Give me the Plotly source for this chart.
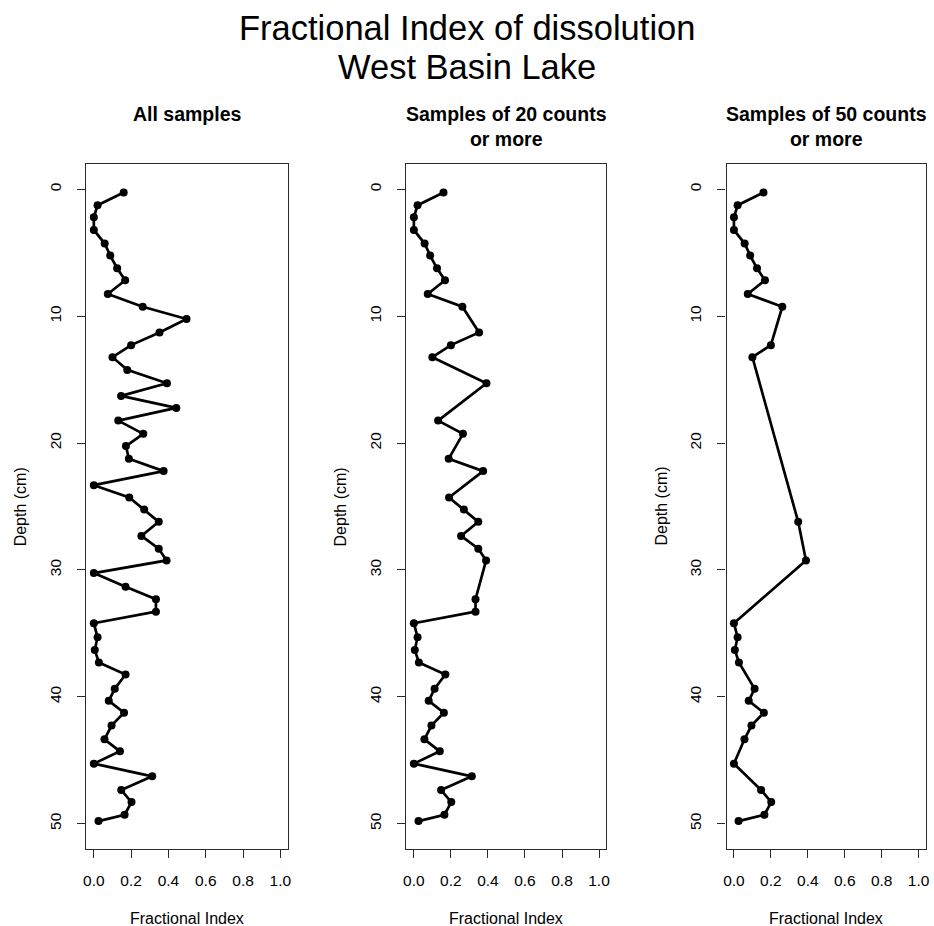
import plotly.graph_objects as go

# ---- data ----
depth_all = [0.25, 1.25, 2.2, 3.2, 4.27, 5.22, 6.22, 7.17, 8.25, 9.25,
             10.22, 11.28, 12.28, 13.23, 14.23, 15.28, 16.28, 17.23, 18.23, 19.27,
             20.24, 21.24, 22.21, 23.32, 24.29, 25.24, 26.21, 27.32, 28.33, 29.25,
             30.25, 31.33, 32.31, 33.29, 34.2, 35.31, 36.31, 37.29, 38.24, 39.37,
             40.32, 41.26, 42.27, 43.35, 44.3, 45.27, 46.27, 47.35, 48.3, 49.3, 49.8]
fi_all = [0.16, 0.02, 0.0, 0.0, 0.058, 0.088, 0.125, 0.168, 0.075, 0.262,
          0.497, 0.352, 0.2, 0.1, 0.179, 0.392, 0.146, 0.442, 0.131, 0.265,
          0.172, 0.188, 0.374, 0.0, 0.19, 0.27, 0.348, 0.255, 0.348, 0.39,
          0.0, 0.17, 0.333, 0.333, 0.0, 0.02, 0.005, 0.027, 0.17, 0.112,
          0.08, 0.162, 0.095, 0.057, 0.14, 0.0, 0.313, 0.147, 0.202, 0.165, 0.025]

# depths of samples with 20 counts or more
depth_20 = [0.25, 1.25, 2.2, 3.2, 4.27, 5.22, 6.22, 7.17, 8.25, 9.25,
            11.28, 12.28, 13.23, 15.28, 18.23, 19.27, 21.24, 22.21, 24.29, 25.24,
            26.21, 27.32, 28.33, 29.25, 32.31, 33.29, 34.2, 35.31, 36.31, 37.29,
            38.24, 39.37, 40.32, 41.26, 42.27, 43.35, 44.3, 45.27, 46.27, 47.35,
            48.3, 49.3, 49.8]
# depths of samples with 50 counts or more
depth_50 = [0.25, 1.25, 2.2, 3.2, 4.27, 5.22, 6.22, 7.17, 8.25, 9.25,
            12.28, 13.23, 26.21, 29.25, 34.2, 35.31, 36.31, 37.29, 39.37, 40.32,
            41.26, 42.27, 43.35, 45.27, 47.35, 48.3, 49.3, 49.8]

lookup = dict(zip(depth_all, fi_all))
fi_20 = [lookup[d] for d in depth_20]
fi_50 = [lookup[d] for d in depth_50]

panel_titles = ["All samples", "Samples of 20 counts<br>or more", "Samples of 50 counts<br>or more"]
x_ticks = [0.0, 0.2, 0.4, 0.6, 0.8, 1.0]
y_ticks = [0, 10, 20, 30, 40, 50]
main_title = ["Fractional Index of dissolution", "West Basin Lake"]

# ---- layout geometry (pixels) ----
W, H = 934, 926
boxes = [(84, 287), (406.5, 608), (729, 930)]
top, bottom = 164, 849
FONT = "Liberation Sans, Arial, sans-serif"

def px(x):
    return x / W

def py(y):
    return 1 - y / H

fig = go.Figure()
series = [(fi_all, depth_all), (fi_20, depth_20), (fi_50, depth_50)]
annotations = []
for i, ((xs, ys), (x0, x1)) in enumerate(zip(series, boxes)):
    n = "" if i == 0 else str(i + 1)
    fig.add_trace(go.Scatter(
        x=xs, y=ys, mode="lines+markers",
        line=dict(color="black", width=2.7),
        marker=dict(color="black", size=8),
        xaxis="x" + n, yaxis="y" + n, showlegend=False,
        hoverinfo="x+y"))
    axis_common = dict(showgrid=False, zeroline=False, showline=True, mirror=True,
                       linecolor="#2a2a2a", linewidth=1.4, ticks="outside",
                       ticklen=8, tickwidth=1.3, tickcolor="#2a2a2a",
                       tickfont=dict(family=FONT, size=15.5, color="black"))
    fig.layout["xaxis" + n] = dict(axis_common, domain=[px(x0), px(x1)],
                                   range=[-0.04, 1.04], tickvals=x_ticks,
                                   tickformat=".1f", anchor="y" + n,
                                   ticklabelstandoff=9)
    fig.layout["yaxis" + n] = dict(axis_common, domain=[py(bottom), py(top)],
                                   range=[52, -2], tickvals=y_ticks,
                                   tickangle=-90, anchor="x" + n,
                                   ticklabelstandoff=10)
    cx = (x0 + x1) / 2
    annotations.append(dict(text="<b>" + panel_titles[i] + "</b>", x=px(cx), y=py(126.5 if i else 114.5),
                            xref="paper", yref="paper", xanchor="center", yanchor="middle",
                            showarrow=False, font=dict(family=FONT, size=19.5, color="black")))
    annotations.append(dict(text="Fractional Index", x=px(cx), y=py(918),
                            xref="paper", yref="paper", xanchor="center", yanchor="middle",
                            showarrow=False, font=dict(family=FONT, size=16, color="black")))
    annotations.append(dict(text="Depth (cm)", x=px(x0 - 66), y=py((top + bottom) / 2),
                            xref="paper", yref="paper", xanchor="center", yanchor="middle",
                            textangle=-90,
                            showarrow=False, font=dict(family=FONT, size=16, color="black")))

for j, (line, yy) in enumerate(zip(main_title, [27.5, 67.5])):
    annotations.append(dict(text=line, x=px(468), y=py(yy), xref="paper", yref="paper",
                            xanchor="center", yanchor="middle", showarrow=False,
                            font=dict(family=FONT, size=34.5, color="black")))

fig.update_layout(width=W, height=H, margin=dict(l=0, r=0, t=0, b=0),
                  paper_bgcolor="white", plot_bgcolor="white",
                  annotations=annotations, font=dict(family=FONT))

fig.write_html("out.html")
